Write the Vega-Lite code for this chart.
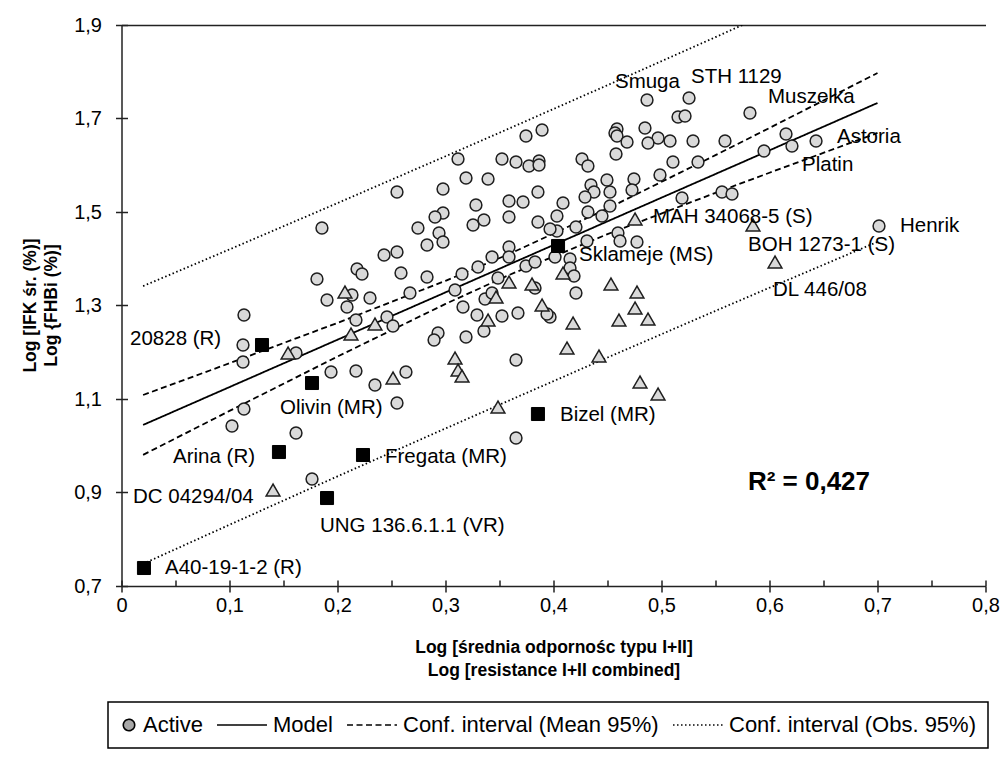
{
  "$schema": "https://vega.github.io/schema/vega-lite/v6.json",
  "width": 864,
  "height": 561,
  "autosize": {"type": "none"},
  "padding": {"left": 121.5, "top": 25, "right": 20, "bottom": 179},
  "background": "white",
  "config": {
    "view": {"stroke": null},
    "font": "Liberation Sans",
    "axis": {"grid": false, "domainColor": "#222", "tickColor": "#222", "domainWidth": 1.5, "tickWidth": 1.5, "labelColor": "black", "labelFontSize": 20, "labelFont": "Liberation Sans", "labelFlush": false, "labelOverlap": false, "titleColor": "black"}
  },
  "datasets": {
    "pts": [
      {"x":0.4866,"y":1.7396,"g":"c"},{"x":0.5255,"y":1.7439,"g":"c"},{"x":0.5153,"y":1.7032,"g":"c"},{"x":0.5218,"y":1.7053,"g":"c"},
      {"x":0.5819,"y":1.7118,"g":"c"},{"x":0.6153,"y":1.6668,"g":"c"},{"x":0.6208,"y":1.6412,"g":"c"},{"x":0.6431,"y":1.6519,"g":"c"},
      {"x":0.5949,"y":1.6305,"g":"c"},{"x":0.7014,"y":1.47,"g":"c"},{"x":0.4588,"y":1.6775,"g":"c"},{"x":0.4569,"y":1.669,"g":"c"},
      {"x":0.4588,"y":1.6626,"g":"c"},{"x":0.4847,"y":1.6797,"g":"c"},{"x":0.4968,"y":1.6583,"g":"c"},{"x":0.4875,"y":1.6476,"g":"c"},
      {"x":0.4681,"y":1.6497,"g":"c"},{"x":0.5079,"y":1.6519,"g":"c"},{"x":0.5292,"y":1.6519,"g":"c"},{"x":0.5588,"y":1.6519,"g":"c"},
      {"x":0.4579,"y":1.6241,"g":"c"},{"x":0.5106,"y":1.607,"g":"c"},{"x":0.5338,"y":1.607,"g":"c"},{"x":0.4986,"y":1.5791,"g":"c"},
      {"x":0.4745,"y":1.5706,"g":"c"},{"x":0.4495,"y":1.5684,"g":"c"},{"x":0.4347,"y":1.5578,"g":"c"},{"x":0.4727,"y":1.5471,"g":"c"},
      {"x":0.4523,"y":1.5428,"g":"c"},{"x":0.4375,"y":1.5428,"g":"c"},{"x":0.4292,"y":1.5321,"g":"c"},{"x":0.4319,"y":1.5,"g":"c"},
      {"x":0.4449,"y":1.4914,"g":"c"},{"x":0.4523,"y":1.5128,"g":"c"},{"x":0.519,"y":1.53,"g":"c"},{"x":0.556,"y":1.5428,"g":"c"},
      {"x":0.5653,"y":1.5385,"g":"c"},{"x":0.4597,"y":1.4551,"g":"c"},{"x":0.4616,"y":1.438,"g":"c"},{"x":0.4773,"y":1.4358,"g":"c"},
      {"x":0.3116,"y":1.6134,"g":"c"},{"x":0.319,"y":1.5727,"g":"c"},{"x":0.3394,"y":1.5706,"g":"c"},{"x":0.3523,"y":1.6134,"g":"c"},
      {"x":0.3653,"y":1.607,"g":"c"},{"x":0.3773,"y":1.5984,"g":"c"},{"x":0.3866,"y":1.6091,"g":"c"},{"x":0.3866,"y":1.6005,"g":"c"},
      {"x":0.3745,"y":1.6626,"g":"c"},{"x":0.3894,"y":1.6754,"g":"c"},{"x":0.4264,"y":1.6134,"g":"c"},{"x":0.4319,"y":1.5984,"g":"c"},
      {"x":0.3282,"y":1.515,"g":"c"},{"x":0.3255,"y":1.4722,"g":"c"},{"x":0.3356,"y":1.4829,"g":"c"},{"x":0.3588,"y":1.5235,"g":"c"},
      {"x":0.3718,"y":1.5214,"g":"c"},{"x":0.3588,"y":1.4893,"g":"c"},{"x":0.3856,"y":1.5428,"g":"c"},{"x":0.3856,"y":1.4786,"g":"c"},
      {"x":0.4088,"y":1.5193,"g":"c"},{"x":0.4032,"y":1.4914,"g":"c"},{"x":0.4032,"y":1.4594,"g":"c"},{"x":0.3968,"y":1.4636,"g":"c"},
      {"x":0.4208,"y":1.4679,"g":"c"},{"x":0.431,"y":1.438,"g":"c"},{"x":0.3588,"y":1.4251,"g":"c"},{"x":0.3588,"y":1.4037,"g":"c"},
      {"x":0.3431,"y":1.4037,"g":"c"},{"x":0.3301,"y":1.3824,"g":"c"},{"x":0.3153,"y":1.3674,"g":"c"},{"x":0.3486,"y":1.3588,"g":"c"},
      {"x":0.3745,"y":1.3845,"g":"c"},{"x":0.3829,"y":1.393,"g":"c"},{"x":0.4014,"y":1.4037,"g":"c"},{"x":0.4153,"y":1.3995,"g":"c"},
      {"x":0.4153,"y":1.3802,"g":"c"},{"x":0.419,"y":1.3631,"g":"c"},{"x":0.3088,"y":1.3332,"g":"c"},{"x":0.3366,"y":1.3139,"g":"c"},
      {"x":0.3431,"y":1.3267,"g":"c"},{"x":0.3829,"y":1.3374,"g":"c"},{"x":0.4208,"y":1.3267,"g":"c"},{"x":0.3162,"y":1.2968,"g":"c"},
      {"x":0.3292,"y":1.2797,"g":"c"},{"x":0.3523,"y":1.2775,"g":"c"},{"x":0.3671,"y":1.284,"g":"c"},{"x":0.3968,"y":1.2754,"g":"c"},
      {"x":0.394,"y":1.2818,"g":"c"},{"x":0.3356,"y":1.2455,"g":"c"},{"x":0.319,"y":1.2326,"g":"c"},{"x":0.3653,"y":1.1834,"g":"c"},
      {"x":0.3653,"y":1.0166,"g":"c"},{"x":0.2551,"y":1.5428,"g":"c"},{"x":0.2977,"y":1.5492,"g":"c"},{"x":0.2977,"y":1.4979,"g":"c"},
      {"x":0.2903,"y":1.4893,"g":"c"},{"x":0.2745,"y":1.4658,"g":"c"},{"x":0.294,"y":1.4551,"g":"c"},{"x":0.2829,"y":1.4294,"g":"c"},
      {"x":0.2977,"y":1.4358,"g":"c"},{"x":0.1856,"y":1.4658,"g":"c"},{"x":0.2431,"y":1.408,"g":"c"},{"x":0.2551,"y":1.4144,"g":"c"},
      {"x":0.2181,"y":1.3781,"g":"c"},{"x":0.2227,"y":1.3674,"g":"c"},{"x":0.2588,"y":1.3695,"g":"c"},{"x":0.2829,"y":1.361,"g":"c"},
      {"x":0.181,"y":1.3567,"g":"c"},{"x":0.1903,"y":1.3118,"g":"c"},{"x":0.2134,"y":1.3225,"g":"c"},{"x":0.2301,"y":1.316,"g":"c"},
      {"x":0.2671,"y":1.3267,"g":"c"},{"x":0.2088,"y":1.2968,"g":"c"},{"x":0.2171,"y":1.269,"g":"c"},{"x":0.2458,"y":1.2754,"g":"c"},
      {"x":0.2514,"y":1.2562,"g":"c"},{"x":0.2931,"y":1.2412,"g":"c"},{"x":0.2894,"y":1.2262,"g":"c"},{"x":0.1134,"y":1.2797,"g":"c"},
      {"x":0.1125,"y":1.2155,"g":"c"},{"x":0.1125,"y":1.1791,"g":"c"},{"x":0.1616,"y":1.1984,"g":"c"},{"x":0.194,"y":1.1578,"g":"c"},
      {"x":0.2171,"y":1.1599,"g":"c"},{"x":0.2347,"y":1.1299,"g":"c"},{"x":0.2634,"y":1.1578,"g":"c"},{"x":0.2551,"y":1.0914,"g":"c"},
      {"x":0.1134,"y":1.0786,"g":"c"},{"x":0.1023,"y":1.0422,"g":"c"},{"x":0.1616,"y":1.0273,"g":"c"},{"x":0.1764,"y":0.9289,"g":"c"},
      {"x":0.4755,"y":1.485,"g":"t"},{"x":0.5847,"y":1.4722,"g":"t"},{"x":0.6051,"y":1.393,"g":"t"},{"x":0.3588,"y":1.3503,"g":"t"},
      {"x":0.3801,"y":1.346,"g":"t"},{"x":0.4088,"y":1.3695,"g":"t"},{"x":0.4532,"y":1.346,"g":"t"},{"x":0.4773,"y":1.3289,"g":"t"},
      {"x":0.3468,"y":1.3182,"g":"t"},{"x":0.3894,"y":1.3011,"g":"t"},{"x":0.3394,"y":1.269,"g":"t"},{"x":0.4181,"y":1.2626,"g":"t"},
      {"x":0.4606,"y":1.269,"g":"t"},{"x":0.4755,"y":1.2947,"g":"t"},{"x":0.4875,"y":1.2711,"g":"t"},{"x":0.4125,"y":1.2091,"g":"t"},
      {"x":0.4421,"y":1.192,"g":"t"},{"x":0.3088,"y":1.1877,"g":"t"},{"x":0.3116,"y":1.162,"g":"t"},{"x":0.3153,"y":1.1492,"g":"t"},
      {"x":0.3486,"y":1.0829,"g":"t"},{"x":0.4801,"y":1.1364,"g":"t"},{"x":0.4968,"y":1.1107,"g":"t"},{"x":0.2069,"y":1.3289,"g":"t"},
      {"x":0.1542,"y":1.1984,"g":"t"},{"x":0.2125,"y":1.239,"g":"t"},{"x":0.2347,"y":1.2604,"g":"t"},{"x":0.2514,"y":1.1449,"g":"t"},
      {"x":0.1403,"y":0.9053,"g":"t"},
      {"x":0.1301,"y":1.2155,"g":"s"},{"x":0.1764,"y":1.1342,"g":"s"},{"x":0.1458,"y":0.9866,"g":"s"},{"x":0.2236,"y":0.9802,"g":"s"},
      {"x":0.1903,"y":0.8882,"g":"s"},{"x":0.0208,"y":0.7385,"g":"s"},{"x":0.3856,"y":1.0679,"g":"s"},{"x":0.4042,"y":1.4273,"g":"s"}
    ],
    "lines": [
      {"x":0.02,"y":1.0445,"series":"Model","part":"m"},{"x":0.7,"y":1.7332,"series":"Model","part":"m"},
      {"x":0.02,"y":1.1085,"series":"Conf. interval (Mean 95%)","part":"mu"},{"x":0.1,"y":1.1765,"series":"Conf. interval (Mean 95%)","part":"mu"},
      {"x":0.2,"y":1.2628,"series":"Conf. interval (Mean 95%)","part":"mu"},{"x":0.3,"y":1.3528,"series":"Conf. interval (Mean 95%)","part":"mu"},
      {"x":0.36,"y":1.4112,"series":"Conf. interval (Mean 95%)","part":"mu"},{"x":0.45,"y":1.5074,"series":"Conf. interval (Mean 95%)","part":"mu"},
      {"x":0.55,"y":1.6216,"series":"Conf. interval (Mean 95%)","part":"mu"},{"x":0.6,"y":1.6798,"series":"Conf. interval (Mean 95%)","part":"mu"},
      {"x":0.7,"y":1.7973,"series":"Conf. interval (Mean 95%)","part":"mu"},
      {"x":0.02,"y":0.9805,"series":"Conf. interval (Mean 95%)","part":"ml"},{"x":0.1,"y":1.0745,"series":"Conf. interval (Mean 95%)","part":"ml"},
      {"x":0.2,"y":1.1908,"series":"Conf. interval (Mean 95%)","part":"ml"},{"x":0.3,"y":1.3034,"series":"Conf. interval (Mean 95%)","part":"ml"},
      {"x":0.36,"y":1.3664,"series":"Conf. interval (Mean 95%)","part":"ml"},{"x":0.45,"y":1.4526,"series":"Conf. interval (Mean 95%)","part":"ml"},
      {"x":0.55,"y":1.541,"series":"Conf. interval (Mean 95%)","part":"ml"},{"x":0.6,"y":1.584,"series":"Conf. interval (Mean 95%)","part":"ml"},
      {"x":0.7,"y":1.6691,"series":"Conf. interval (Mean 95%)","part":"ml"},
      {"x":0.02,"y":1.3415,"series":"Conf. interval (Obs. 95%)","part":"ou"},{"x":0.1,"y":1.42,"series":"Conf. interval (Obs. 95%)","part":"ou"},
      {"x":0.2,"y":1.519,"series":"Conf. interval (Obs. 95%)","part":"ou"},{"x":0.3,"y":1.6192,"series":"Conf. interval (Obs. 95%)","part":"ou"},
      {"x":0.36,"y":1.6797,"series":"Conf. interval (Obs. 95%)","part":"ou"},{"x":0.45,"y":1.7713,"series":"Conf. interval (Obs. 95%)","part":"ou"},
      {"x":0.55,"y":1.8741,"series":"Conf. interval (Obs. 95%)","part":"ou"},{"x":0.575,"y":1.9,"series":"Conf. interval (Obs. 95%)","part":"ou"},
      {"x":0.02,"y":0.7475,"series":"Conf. interval (Obs. 95%)","part":"ol"},{"x":0.1,"y":0.831,"series":"Conf. interval (Obs. 95%)","part":"ol"},
      {"x":0.2,"y":0.9346,"series":"Conf. interval (Obs. 95%)","part":"ol"},{"x":0.3,"y":1.037,"series":"Conf. interval (Obs. 95%)","part":"ol"},
      {"x":0.36,"y":1.0979,"series":"Conf. interval (Obs. 95%)","part":"ol"},{"x":0.45,"y":1.1887,"series":"Conf. interval (Obs. 95%)","part":"ol"},
      {"x":0.55,"y":1.2885,"series":"Conf. interval (Obs. 95%)","part":"ol"},{"x":0.6,"y":1.338,"series":"Conf. interval (Obs. 95%)","part":"ol"},
      {"x":0.7,"y":1.4362,"series":"Conf. interval (Obs. 95%)","part":"ol"}
    ],
    "labels": [
      {"x":0.4569,"y":1.778,"text":"Smuga"},{"x":0.5273,"y":1.7888,"text":"STH 1129"},{"x":0.5986,"y":1.746,"text":"Muszelka"},
      {"x":0.6625,"y":1.6604,"text":"Astoria"},{"x":0.6301,"y":1.6005,"text":"Platin"},{"x":0.4921,"y":1.4893,"text":"MAH 34068-5 (S)"},
      {"x":0.7208,"y":1.47,"text":"Henrik"},{"x":0.5801,"y":1.4294,"text":"BOH 1273-1 (S)"},{"x":0.4236,"y":1.408,"text":"Sklameje (MS)"},
      {"x":0.6032,"y":1.3332,"text":"DL 446/08"},{"x":0.0079,"y":1.2283,"text":"20828 (R)"},{"x":0.1468,"y":1.0807,"text":"Olivin (MR)"},
      {"x":0.0477,"y":0.976,"text":"Arina (R)"},{"x":0.244,"y":0.976,"text":"Fregata (MR)"},{"x":0.0106,"y":0.8904,"text":"DC 04294/04"},
      {"x":0.1838,"y":0.8284,"text":"UNG 136.6.1.1 (VR)"},{"x":0.0403,"y":0.7385,"text":"A40-19-1-2 (R)"},{"x":0.406,"y":1.0658,"text":"Bizel (MR)"}
    ]
  },
  "resolve": {"axis": {"x": "independent", "y": "independent"}},
  "layer": [
    {
      "data": {"name": "lines"},
      "mark": {"type": "line", "clip": true, "color": "black", "strokeWidth": 1.8},
      "encoding": {
        "x": {"field": "x", "type": "quantitative", "scale": {"domain": [0, 0.8], "nice": false, "zero": false},
          "axis": {"values": [0,0.1,0.2,0.3,0.4,0.5,0.6,0.7,0.8], "labelExpr": "datum.value == 0 ? '0' : replace(format(datum.value, '.1f'), '.', ',')", "tickSize": 6, "labelPadding": 3,
            "title": ["Log [średnia odpornośc typu I+II]", "Log [resistance I+II combined]"], "titleFont": "Liberation Sans", "titleFontSize": 17.5, "titleFontWeight": "bold", "titleLineHeight": 23, "titleY": 52, "titleBaseline": "top"}},
        "y": {"field": "y", "type": "quantitative", "scale": {"domain": [0.7, 1.9], "nice": false, "zero": false},
          "axis": {"values": [0.7,0.9,1.1,1.3,1.5,1.7,1.9], "labelExpr": "replace(format(datum.value, '.1f'), '.', ',')", "tickSize": 6, "labelPadding": 14,
            "title": ["Log [IFK śr. (%)]", "Log {FHBi (%)]"], "titleFont": "Liberation Sans", "titleFontSize": 17.5, "titleFontWeight": "bold", "titleLineHeight": 21, "titleAngle": -90, "titleX": -100, "titleY": 280, "titleAlign": "center", "titleBaseline": "top"}},
        "detail": {"field": "part"},
        "strokeDash": {"field": "series", "type": "nominal",
          "scale": {"domain": ["Active", "Model", "Conf. interval (Mean 95%)", "Conf. interval (Obs. 95%)"], "range": [[1,0],[1,0],[6,3.5],[1.5,2.5]]},
          "legend": {"orient": "none", "legendX": -13.5, "legendY": 677, "direction": "horizontal", "title": null,
            "strokeColor": "black", "padding": 12, "symbolType": "stroke", "symbolSize": 156, "symbolStrokeWidth": 1.6, "symbolStrokeColor": "black",
            "labelFontSize": 22, "labelFont": "Liberation Sans", "labelColor": "black", "labelOffset": 5, "labelLimit": 600, "columnPadding": 10,
            "encode": {
              "legend": {"update": {"strokeWidth": {"value": 1.5}}},
              "symbols": {"update": {
                "shape": {"signal": "datum.value == 'Active' ? 'circle' : 'M-4,0H4'"},
                "size": {"signal": "datum.value == 'Active' ? 130 : 156"},
                "x": {"signal": "datum.value == 'Active' ? 9 : 26"},
                "fill": {"signal": "datum.value == 'Active' ? '#a8a8a8' : 'transparent'"},
                "stroke": {"value": "black"}
              }},
              "labels": {"update": {"dx": {"signal": "datum.value == 'Active' ? -4 : 30"}}}}}}
      }
    },
    {
      "data": {"name": "pts"},
      "transform": [{"filter": "datum.g == 'c'"}],
      "mark": {"type": "point", "shape": "circle", "filled": true, "fill": "#d9d9d9", "stroke": "#1e1e1e", "strokeWidth": 1.5, "size": 140, "opacity": 1},
      "encoding": {
        "x": {"field": "x", "type": "quantitative", "axis": {"orient": "top", "ticks": false, "labels": false, "title": null, "domainColor": "#222", "domainWidth": 1.5}},
        "y": {"field": "y", "type": "quantitative", "axis": null}
      }
    },
    {
      "data": {"name": "pts"},
      "transform": [{"filter": "datum.g == 't'"}],
      "mark": {"type": "point", "shape": "triangle-up", "filled": true, "fill": "#d9d9d9", "stroke": "#1e1e1e", "strokeWidth": 1.5, "size": 190, "opacity": 1},
      "encoding": {
        "x": {"field": "x", "type": "quantitative", "axis": {"orient": "bottom", "tickSize": -6, "labels": false, "domain": false, "title": null}},
        "y": {"field": "y", "type": "quantitative", "axis": {"orient": "left", "values": [0.7,0.9,1.1,1.3,1.5,1.7,1.9], "tickSize": -6, "labels": false, "domain": false, "title": null}}
      }
    },
    {
      "data": {"name": "pts"},
      "transform": [{"filter": "datum.g == 's'"}],
      "mark": {"type": "point", "shape": "square", "filled": true, "fill": "black", "stroke": "black", "strokeWidth": 1, "size": 170, "opacity": 1},
      "encoding": {
        "x": {"field": "x", "type": "quantitative", "axis": null},
        "y": {"field": "y", "type": "quantitative", "axis": null}
      }
    },
    {
      "data": {"name": "labels"},
      "mark": {"type": "text", "align": "left", "baseline": "middle", "fontSize": 20.5, "font": "Liberation Sans", "color": "black"},
      "encoding": {
        "x": {"field": "x", "type": "quantitative", "axis": null},
        "y": {"field": "y", "type": "quantitative", "axis": null},
        "text": {"field": "text"}
      }
    },
    {
      "data": {"values": [{"x": 0.58, "y": 0.9225, "text": "R² = 0,427"}]},
      "mark": {"type": "text", "align": "left", "baseline": "middle", "fontSize": 26, "fontWeight": "bold", "font": "Liberation Sans", "color": "black"},
      "encoding": {
        "x": {"field": "x", "type": "quantitative", "axis": null},
        "y": {"field": "y", "type": "quantitative", "axis": null},
        "text": {"field": "text"}
      }
    }
  ]
}
